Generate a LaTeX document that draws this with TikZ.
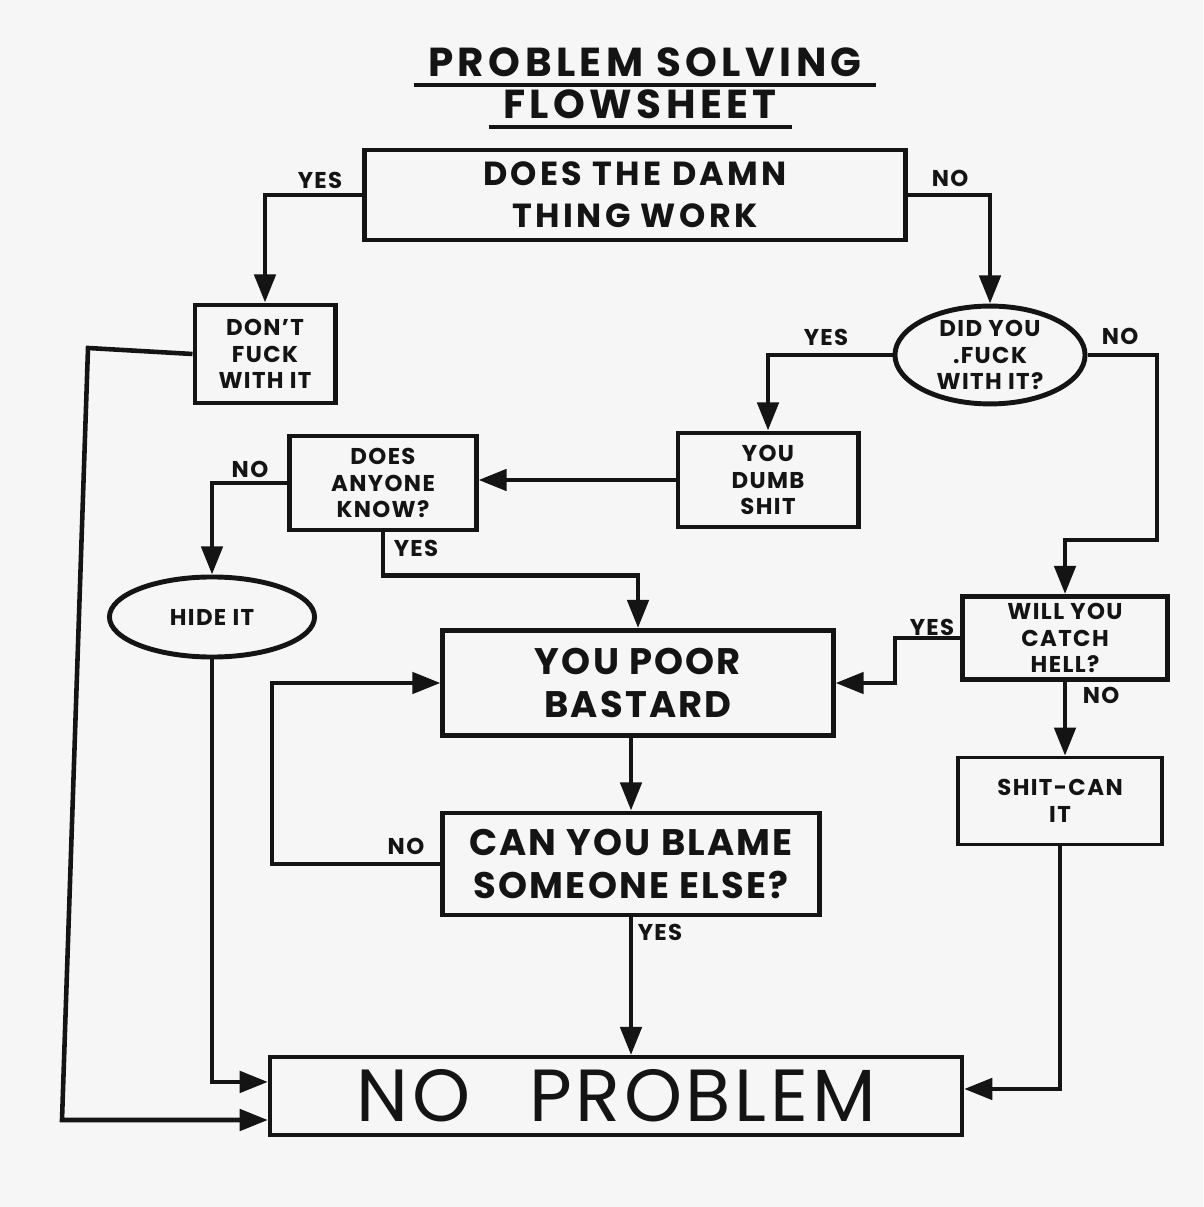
\documentclass[tikz,border=0pt]{standalone}
\usepackage{fontspec}
\setmainfont[LetterSpace=6]{Poppins}
\usetikzlibrary{shapes.geometric,arrows.meta}

\definecolor{paper}{rgb}{0.965,0.965,0.965}
\definecolor{ink}{rgb}{0.08,0.08,0.08}

\tikzset{
  box/.style={draw=ink, text=ink, line width=1.4pt, align=center, inner sep=0pt,
    font=\bfseries\fontsize{6.5}{7.5}\selectfont},
  oval/.style={box, ellipse},
  ans/.style={text=ink, inner sep=0pt, font=\bfseries\fontsize{6.5}{7}\selectfont},
  heading/.style={ans, font=\fontsize{11.5}{14}\selectfont\addfontfeature{LetterSpace=11}\bfseries},
  flow/.style={draw=ink, line width=1.3pt, -{Triangle[length=8pt,width=6pt]}},
  uline/.style={draw=ink, line width=1.3pt},
}

\begin{document}
\begin{tikzpicture}[x=0.01cm, y=-0.01cm]
  % Paper
  \fill[paper] (0,0) rectangle (1203,1207);
  \useasboundingbox (0,0) rectangle (1203,1207);
  % Title
  \node[heading] (title1) at (645,62) {PROBLEM SOLVING};
  \node[heading] (title2) at (640,104) {FLOWSHEET};
  \draw[uline] ([xshift=-4pt,yshift=-2.5pt]title1.base west) -- ([xshift=4pt,yshift=-2.5pt]title1.base east);
  \draw[uline] ([xshift=-4pt,yshift=-2.5pt]title2.base west) -- ([xshift=4pt,yshift=-2.5pt]title2.base east);
  % Boxes
  \node[box, minimum width=5.4cm, minimum height=0.9cm,
    font=\bfseries\fontsize{9.5}{12}\selectfont\addfontfeature{LetterSpace=10}]
    (work) at (635,195) {DOES THE DAMN\\THING WORK};
  \node[box, minimum width=1.4cm, minimum height=0.98cm] (dont) at (265,354) {DON'T\\FUCK\\WITH IT};
  \node[oval, minimum width=1.9cm, minimum height=0.9cm] (fuck) at (990,355) {DID YOU\\.FUCK\\WITH IT?};
  \node[box, minimum width=1.8cm, minimum height=0.94cm] (dumb) at (768,480) {YOU\\DUMB\\SHIT};
  \node[box, minimum width=1.86cm, minimum height=0.94cm] (anyone) at (383,483) {DOES\\ANYONE\\KNOW?};
  \node[oval, minimum width=2.05cm, minimum height=0.8cm] (hide) at (212,617) {HIDE IT};
  \node[box, minimum width=3.9cm, minimum height=1.05cm, font=\bfseries\fontsize{10.5}{12.5}\selectfont]
    (poor) at (638,683) {YOU POOR\\BASTARD};
  \node[box, minimum width=2.05cm, minimum height=0.83cm] (hell) at (1065,638) {WILL YOU\\CATCH\\HELL?};
  \node[box, minimum width=2.04cm, minimum height=0.87cm, line width=1pt] (can) at (1060,801) {SHIT-CAN\\IT};
  \node[box, minimum width=3.77cm, minimum height=1.02cm, font=\bfseries\fontsize{10.5}{12.5}\selectfont]
    (blame) at (631,864) {CAN YOU BLAME\\SOMEONE ELSE?};
  \node[box, minimum width=6.92cm, minimum height=0.78cm, line width=1.1pt,
    font=\fontsize{21}{23}\selectfont\addfontfeature{LetterSpace=5}] (nop) at (616,1096) {NO\hspace{0.8em}PROBLEM};
  % Bends of the long left line
  \coordinate (ltop) at (88,348);
  \coordinate (lbot) at (62,1120);
  \coordinate (rbend) at (1157,540);
  % Connectors
  \draw[flow] (work.west) -| (dont.north);
  \draw[flow] (work.east) -| (fuck.north);
  \draw[flow] (fuck.west) -| (dumb.north);
  \draw[flow] (fuck.east) -| (rbend) -| (hell.north);
  \draw[flow] (dumb.west) -- (dumb.west -| anyone.east);
  \draw[flow] (anyone.west) -| (hide.north);
  \draw[flow] (anyone.south) -- ++(0,43) -| (poor.north);
  \draw[flow] (hell.west) -- ++(-65,0) |- (poor.east);
  \draw[flow] (hell.south) -- (hell.south |- can.north);
  \draw[flow] (poor.south -| blame.north) -- (blame.north);
  \draw[flow] (blame.west) -- ++(-168,0) |- (poor.west);
  \draw[flow] (blame.south) -- (blame.south |- nop.north);
  \draw[flow] (dont.west) -- (ltop) -- (lbot) -- (lbot -| nop.west);
  \draw[flow] (hide.south) |- ([yshift=4pt]nop.west);
  \draw[flow] (can.south) |- ([yshift=2pt]nop.east);
  % Answers
  \node[ans] (yes1) at (320,180) {YES};
  \node[ans] (no1) at (950,178) {NO};
  \node[ans] (yes2) at (826,337) {YES};
  \node[ans] (no2) at (1120,336) {NO};
  \node[ans] (no3) at (250,469) {NO};
  \node[ans] (yes3) at (416,548) {YES};
  \node[ans] (yes4) at (932,627) {YES};
  \node[ans] (no4) at (1101,695) {NO};
  \node[ans] (no5) at (406,846) {NO};
  \node[ans] (yes5) at (660,932) {YES};
\end{tikzpicture}
\end{document}
